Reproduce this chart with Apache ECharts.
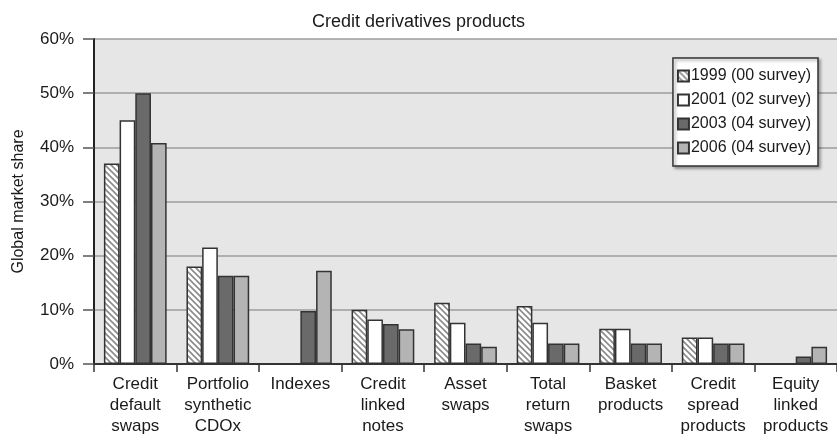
<!DOCTYPE html>
<html>
<head>
<meta charset="utf-8">
<script src="https://cdn.jsdelivr.net/npm/echarts@6/dist/echarts.min.js"></script>
<style>
  html, body { margin: 0; padding: 0; background: #ffffff; }
  #chart { width: 837px; height: 437px; }
</style>
</head>
<body>
<div id="chart"></div>
<script>
// Product categories (x axis)
const categories = [
  'Credit\ndefault\nswaps',
  'Portfolio\nsynthetic\nCDOx',
  'Indexes',
  'Credit\nlinked\nnotes',
  'Asset\nswaps',
  'Total\nreturn\nswaps',
  'Basket\nproducts',
  'Credit\nspread\nproducts',
  'Equity\nlinked\nproducts'
];

// Global market share (%) by survey year
const seriesNames = ['1999 (00 survey)', '2001 (02 survey)', '2003 (04 survey)', '2006 (04 survey)'];
const share1999 = [37, 18, null, 10, 11.3, 10.7, 6.5, 4.9, null];
const share2001 = [45, 21.5, null, 8.2, 7.6, 7.6, 6.5, 4.9, null];
const share2003 = [50, 16.3, 9.8, 7.4, 3.8, 3.8, 3.8, 3.8, 1.4];
const share2006 = [40.8, 16.3, 17.2, 6.4, 3.2, 3.8, 3.8, 3.8, 3.2];

// Y axis ticks
const yTicks = [0, 10, 20, 30, 40, 50, 60];

// Diagonal hatch fill for the first series
function makeHatch() {
  const c = document.createElement('canvas');
  c.width = 6; c.height = 6;
  const ctx = c.getContext('2d');
  ctx.fillStyle = '#ffffff';
  ctx.fillRect(0, 0, 6, 6);
  ctx.strokeStyle = '#8a8a8a';
  ctx.lineWidth = 1.6;
  ctx.beginPath();
  ctx.moveTo(-1, -1); ctx.lineTo(7, 7);
  ctx.moveTo(-4, 2); ctx.lineTo(2, 8);
  ctx.moveTo(2, -4); ctx.lineTo(8, 2);
  ctx.stroke();
  return { image: c, repeat: 'repeat' };
}

const fills = [makeHatch(), '#ffffff', '#6a6a6a', '#b4b4b4'];
const data = [share1999, share2001, share2003, share2006];

const chart = echarts.init(document.getElementById('chart'), null, { renderer: 'canvas' });

const font = 'Liberation Sans, Arial, Helvetica, sans-serif';

chart.setOption({
  backgroundColor: '#ffffff',
  animation: false,
  textStyle: { fontFamily: font },
  title: {
    text: 'Credit derivatives products',
    left: 'center',
    top: 8,
    textStyle: { fontSize: 18, fontWeight: 'normal', color: '#1a1a1a', fontFamily: font }
  },
  legend: {
    orient: 'vertical',
    right: 19,
    top: 58,
    padding: [10, 7, 10, 4],
    itemGap: 8,
    itemWidth: 11,
    itemHeight: 11,
    icon: 'rect',
    backgroundColor: '#ffffff',
    borderColor: '#333',
    borderWidth: 1.5,
    shadowColor: 'rgba(0,0,0,0.35)',
    shadowBlur: 3,
    shadowOffsetX: 2,
    shadowOffsetY: 2,
    textStyle: { fontSize: 16, color: '#1a1a1a', fontFamily: font, padding: [0, 0, 0, -3] },
    data: seriesNames
  },
  grid: {
    left: 94,
    right: 0,
    top: 39,
    bottom: 73,
    show: true,
    backgroundColor: '#e6e6e6',
    borderWidth: 0
  },
  xAxis: {
    type: 'category',
    data: categories,
    axisLine: { lineStyle: { color: '#333', width: 2 } },
    axisTick: { show: true, length: 8, lineStyle: { color: '#333', width: 1.5 } },
    axisLabel: {
      interval: 0,
      fontSize: 17,
      lineHeight: 21,
      color: '#1a1a1a',
      margin: 10,
      fontFamily: font
    }
  },
  yAxis: {
    type: 'value',
    min: yTicks[0],
    max: yTicks[yTicks.length - 1],
    interval: 10,
    name: 'Global market share',
    nameLocation: 'middle',
    nameGap: 67,
    nameTextStyle: { fontSize: 16, color: '#1a1a1a', fontFamily: font },
    axisLine: { show: true, lineStyle: { color: '#222', width: 2 } },
    axisTick: { show: true, length: 11, lineStyle: { color: '#555', width: 1.5 } },
    axisLabel: {
      formatter: '{value}%',
      fontSize: 17,
      color: '#1a1a1a',
      margin: 20,
      fontFamily: font
    },
    splitLine: { lineStyle: { color: '#9c9c9c', width: 1.5 } }
  },
  series: seriesNames.map((name, i) => ({
    name: name,
    type: 'bar',
    data: data[i],
    barGap: '0%',
    barCategoryGap: '24%',
    itemStyle: {
      color: fills[i],
      borderColor: '#333',
      borderWidth: 1.5
    }
  }))
});
</script>
</body>
</html>
